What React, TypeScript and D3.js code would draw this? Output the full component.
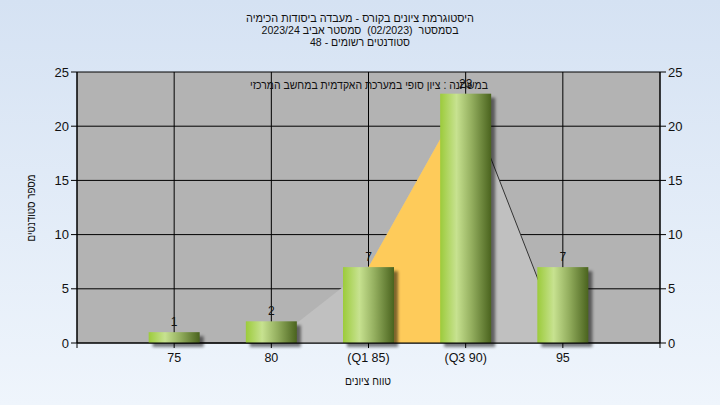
import React from "react";
import * as d3 from "d3";

const categories = ["75", "80", "(Q1 85)", "(Q3 90)", "95"];
const counts = [1, 2, 7, 23, 7];
const distArea = [0, 0, 7, 23, 0];
const iqrArea: (number | null)[] = [null, null, 7, 23, null];
const lineValues: (number | null)[] = [0, 0, null, 23, 0];
const yTicks = [0, 5, 10, 15, 20, 25];
const titleLines = [
  "היסטוגרמת ציונים בקורס - מעבדה ביסודות הכימיה",
  "בסמסטר  (02/2023)  סמסטר אביב 2023/24",
  "סטודנטים רשומים - 48",
];
const titleWidths = [228, 197, 100];
const plotSubtitle = "במשתנה : ציון סופי במערכת האקדמית במחשב המרכזי";
const xTitle = "טווח ציונים";
const yTitle = "מספר סטודנטים";

const W = 720, H = 405;
const L = 77, R = 660, T = 72, B = 343;
const FONT = "'Liberation Sans', Arial, sans-serif";

export default function App() {
  const x = d3.scaleLinear().domain([-1, 5]).range([L, R]);
  const y = d3.scaleLinear().domain([0, 25]).range([B, T]);
  const barW = 51;

  const areaGen = d3
    .area<number | null>()
    .defined((d) => d != null)
    .x((_, i) => x(i))
    .y0(y(0))
    .y1((d) => y(d as number));
  const lineGen = d3
    .line<number | null>()
    .defined((d) => d != null)
    .x((_, i) => x(i))
    .y((d) => y(d as number));

  const vgrid = d3.range(-1, 6);

  return (
    <svg
      width={W}
      height={H}
      style={{ position: "absolute", left: 0, top: 0, display: "block" }}
      fontFamily={FONT}
    >
      <defs>
        <linearGradient id="bg" x1="0" y1="0" x2="0" y2="1">
          <stop offset="0%" stopColor="#d5e2f3" />
          <stop offset="100%" stopColor="#eff5fc" />
        </linearGradient>
        <linearGradient id="bar" x1="0" y1="0" x2="1" y2="0">
          <stop offset="0%" stopColor="#9ccb3b" />
          <stop offset="32%" stopColor="#c7e290" />
          <stop offset="62%" stopColor="#93ae5e" />
          <stop offset="100%" stopColor="#4a631e" />
        </linearGradient>
        <filter id="shadow" x="-20%" y="-20%" width="160%" height="160%">
          <feGaussianBlur stdDeviation="1.6" />
        </filter>
        <clipPath id="plotclip">
          <rect x={L} y={T} width={R - L} height={B - T + 8} />
        </clipPath>
      </defs>
      <rect x={0} y={0} width={W} height={H} fill="url(#bg)" />

      {titleLines.map((t, i) => (
        <text
          key={i}
          x={W / 2}
          y={22 + i * 12}
          textAnchor="middle"
          fontSize={11}
          fill="#111"
          textLength={titleWidths[i]}
          lengthAdjust="spacingAndGlyphs"
          style={{ whiteSpace: "pre" }}
        >
          {t}
        </text>
      ))}

      <rect x={L} y={T} width={R - L} height={B - T} fill="#b3b3b3" />

      {yTicks.map((t) => (
        <line key={"h" + t} x1={L} x2={R} y1={y(t)} y2={y(t)} stroke="#000" strokeWidth={1} />
      ))}
      {vgrid.map((i) => (
        <line key={"v" + i} x1={x(i)} x2={x(i)} y1={T} y2={B} stroke="#000" strokeWidth={1} />
      ))}

      <path d={areaGen(distArea) || ""} fill="#c0c0c0" />
      <path d={areaGen(iqrArea) || ""} fill="#fecb5a" />
      <path d={lineGen(lineValues) || ""} fill="none" stroke="#333" strokeWidth={1} />

      <g clipPath="url(#plotclip)">
        {counts.map((c, i) => (
          <rect
            key={"s" + i}
            x={x(i) - barW / 2 + 4}
            y={y(c) + 4}
            width={barW}
            height={y(0) - y(c)}
            fill="#000"
            opacity={0.5}
            filter="url(#shadow)"
          />
        ))}
      </g>
      {counts.map((c, i) => (
        <rect
          key={"b" + i}
          x={x(i) - barW / 2}
          y={y(c)}
          width={barW}
          height={y(0) - y(c)}
          fill="url(#bar)"
        />
      ))}

      {/* axes */}
      <line x1={L} x2={R} y1={B} y2={B} stroke="#000" />
      <line x1={L} x2={L} y1={T} y2={B} stroke="#000" />
      <line x1={R} x2={R} y1={T} y2={B} stroke="#000" />
      {yTicks.map((t) => (
        <g key={"yt" + t}>
          <line x1={L - 6} x2={L} y1={y(t)} y2={y(t)} stroke="#000" />
          <text x={L - 8} y={y(t) + 4.5} textAnchor="end" fontSize={13} fill="#111">
            {t}
          </text>
          <line x1={R} x2={R + 6} y1={y(t)} y2={y(t)} stroke="#000" />
          <text x={R + 8} y={y(t) + 4.5} textAnchor="start" fontSize={13} fill="#111">
            {t}
          </text>
        </g>
      ))}
      {vgrid.map((i) => (
        <line key={"xt" + i} x1={x(i)} x2={x(i)} y1={B} y2={B + 5} stroke="#000" />
      ))}
      {categories.map((c, i) => (
        <text
          key={"xl" + i}
          x={x(i)}
          y={362}
          textAnchor="middle"
          fontSize={12.5}
          fill="#111"
        >
          {c}
        </text>
      ))}

      {counts.map((c, i) => (
        <text
          key={"dl" + i}
          x={x(i)}
          y={y(c) - 6}
          textAnchor="middle"
          fontSize={12}
          fill="#111"
        >
          {c}
        </text>
      ))}

      <text
        x={369}
        y={89}
        textAnchor="middle"
        fontSize={12}
        fill="#111"
        textLength={238}
        lengthAdjust="spacingAndGlyphs"
      >
        {plotSubtitle}
      </text>

      <text
        x={368}
        y={385}
        textAnchor="middle"
        fontSize={12}
        fill="#111"
        textLength={46}
        lengthAdjust="spacingAndGlyphs"
      >
        {xTitle}
      </text>
      <text
        transform={`translate(35, ${208}) rotate(-90)`}
        textAnchor="middle"
        fontSize={12}
        fill="#111"
        textLength={67}
        lengthAdjust="spacingAndGlyphs"
      >
        {yTitle}
      </text>
    </svg>
  );
}
